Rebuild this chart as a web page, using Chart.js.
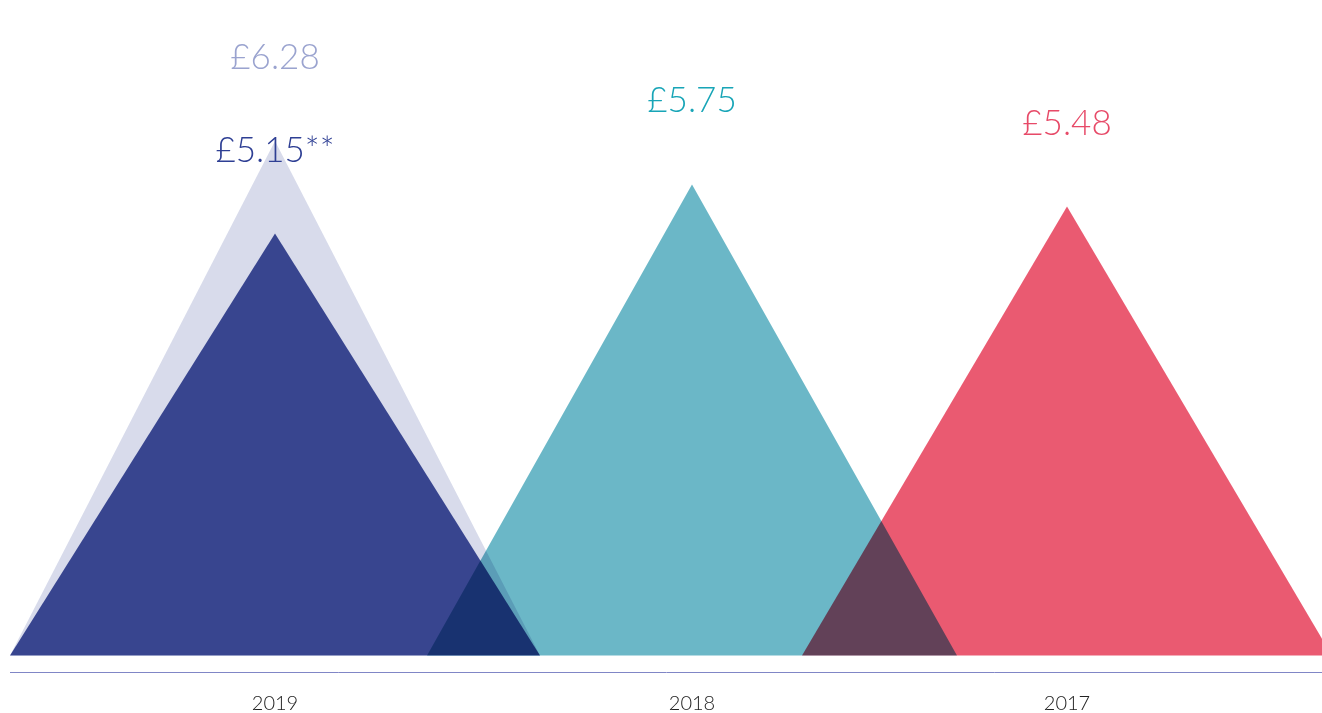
<!DOCTYPE html>
<html>
<head>
<meta charset="utf-8">
<script src="https://cdn.jsdelivr.net/npm/chart.js@4/dist/chart.umd.min.js"></script>
<style>
  html, body { margin: 0; padding: 0; background: #ffffff; }
  #wrap { width: 1322px; height: 713px; }
</style>
</head>
<body>
<div id="wrap"><canvas id="c" width="1322" height="713"></canvas></div>
<script>
// ---- data ----
const categories = ['2019', '2018', '2017'];
const values2019Prior = [6.28];            // light background triangle for 2019
const valuesMain = [5.15, 5.75, 5.48];      // main triangles
const valueLabels = ['£5.15**', '£5.75', '£5.48'];
const priorLabels = ['£6.28'];

// ---- layout (category positions on a linear x scale) ----
const catPos = [265, 682, 1057];
const halfWidth = 265;

function tri(pos, v) {
  return [{x: pos - halfWidth, y: 0}, {x: pos, y: v}, {x: pos + halfWidth, y: 0}];
}

const datasets = [
  { label: '2019 prior', data: tri(catPos[0], values2019Prior[0]), backgroundColor: '#d8dbeb', order: 4,
    txt: priorLabels[0], txtColor: '#9aa3cf' },
  { label: categories[0], data: tri(catPos[0], valuesMain[0]), backgroundColor: '#42509b', order: 3,
    txt: valueLabels[0], txtColor: '#2e3f94' },
  { label: categories[1], data: tri(catPos[1], valuesMain[1]), backgroundColor: '#6bb7c7', order: 2,
    txt: valueLabels[1], txtColor: '#18a5b7' },
  { label: categories[2], data: tri(catPos[2], valuesMain[2]), backgroundColor: '#ea5a71', order: 1,
    txt: valueLabels[2], txtColor: '#e74a68' }
].map(d => Object.assign({
  fill: 'origin', borderWidth: 0, pointRadius: 0, pointHoverRadius: 0, tension: 0
}, d));

const blendPlugin = {
  id: 'blend',
  beforeDatasetsDraw(chart) { chart.ctx.globalCompositeOperation = 'multiply'; },
  afterDatasetsDraw(chart) {
    const ctx = chart.ctx;
    ctx.globalCompositeOperation = 'source-over';
    ctx.save();
    ctx.font = '300 35px Lato, "Open Sans", sans-serif';
    ctx.textAlign = 'center';
    ctx.textBaseline = 'alphabetic';
    chart.data.datasets.forEach((ds, i) => {
      const meta = chart.getDatasetMeta(i);
      const peak = meta.data[1];
      ctx.fillStyle = ds.txtColor;
      ctx.fillText(ds.txt, peak.x, peak.y - 72);
    });
    ctx.restore();
  }
};

new Chart(document.getElementById('c'), {
  type: 'line',
  data: { datasets },
  options: {
    responsive: false,
    animation: false,
    events: [],
    layout: { padding: { left: 10, right: 0, top: 0, bottom: 0 } },
    plugins: { legend: { display: false }, tooltip: { enabled: false } },
    scales: {
      x: {
        type: 'linear', min: 0, max: 1312,
        grid: { display: false },
        border: { display: true, color: '#8086c6', width: 1 },
        afterBuildTicks(scale) { scale.ticks = catPos.map(v => ({ value: v })); },
        afterFit(scale) { scale.height = 41; },
        ticks: {
          padding: 14,
          autoSkip: false,
          maxRotation: 0,
          color: '#222222',
          font: { family: 'Lato, "Open Sans", sans-serif', size: 20, weight: '300', lineHeight: 1 },
          callback(v) { const i = catPos.indexOf(v); return i >= 0 ? categories[i] : ''; }
        }
      },
      y: { display: false, min: -0.2, max: 8 }
    }
  },
  plugins: [blendPlugin]
});
</script>
</body>
</html>
